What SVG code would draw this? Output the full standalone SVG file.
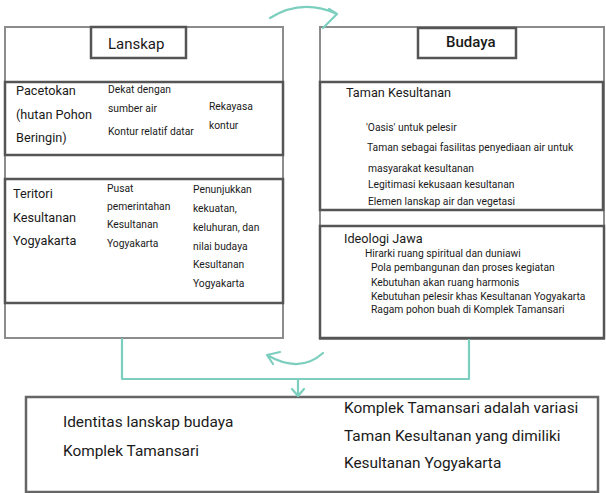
<svg xmlns="http://www.w3.org/2000/svg" width="606" height="493" viewBox="0 0 606 493">
<style>
.outer{fill:none;stroke:#8c8c8c;stroke-width:2}
.inner{fill:none;stroke:#555;stroke-width:2.5}
.title{fill:none;stroke:#555;stroke-width:2.5}
.bot{fill:none;stroke:#666;stroke-width:2.5}
.con{fill:none;stroke:#7ccfbf;stroke-width:2.2;stroke-linecap:round;stroke-linejoin:round}
text{font-family:Roboto,"Liberation Sans",sans-serif;fill:#1a1a1a}
.t15{font-size:15px}
.t12{font-size:12.7px}
.t9{font-size:10.3px}
.t14{font-size:15.4px}
</style>
<rect width="606" height="493" fill="#fff"/>
<g id="lanskap">
<rect class="outer" x="5" y="27" width="278" height="311"/>
<rect class="title" x="91" y="27" width="95" height="31"/>
<text class="t15" x="108" y="49">Lanskap</text>
</g>
<g id="pacetokan">
<rect class="inner" x="5" y="82" width="278" height="73"/>
<text class="t12" x="16" y="95">Pacetokan</text>
<text class="t12" x="16" y="119">(hutan Pohon</text>
<text class="t12" x="16" y="142">Beringin)</text>
<text class="t9" x="108" y="93">Dekat dengan</text>
<text class="t9" x="108" y="112">sumber air</text>
<text class="t9" x="108" y="135">Kontur relatif datar</text>
<text class="t9" x="209" y="110">Rekayasa</text>
<text class="t9" x="209" y="129">kontur</text>
</g>
<g id="teritori">
<rect class="inner" x="5" y="179" width="278" height="124"/>
<text class="t12" x="13" y="198">Teritori</text>
<text class="t12" x="13" y="222">Kesultanan</text>
<text class="t12" x="13" y="245">Yogyakarta</text>
<text class="t9" x="107" y="192">Pusat</text>
<text class="t9" x="107" y="210">pemerintahan</text>
<text class="t9" x="107" y="228">Kesultanan</text>
<text class="t9" x="107" y="247">Yogyakarta</text>
<text class="t9" x="193" y="193">Penunjukkan</text>
<text class="t9" x="193" y="212">kekuatan,</text>
<text class="t9" x="193" y="231">keluhuran, dan</text>
<text class="t9" x="193" y="250">nilai budaya</text>
<text class="t9" x="193" y="268">Kesultanan</text>
<text class="t9" x="193" y="287">Yogyakarta</text>
</g>
<g id="budaya">
<rect class="outer" x="320" y="27" width="284" height="312"/>
<rect class="title" x="418" y="28" width="98" height="30"/>
<text class="t15" x="446" y="47" font-weight="500">Budaya</text>
</g>
<g id="taman">
<rect class="inner" x="320" y="82" width="283" height="128"/>
<text class="t12" x="346" y="97">Taman Kesultanan</text>
<text class="t9" x="366" y="131">'Oasis' untuk pelesir</text>
<text class="t9" x="367" y="151">Taman sebagai fasilitas penyediaan air untuk</text>
<text class="t9" x="368" y="172">masyarakat kesultanan</text>
<text class="t9" x="368" y="188">Legitimasi kekusaan kesultanan</text>
<text class="t9" x="368" y="205">Elemen lanskap air dan vegetasi</text>
</g>
<g id="ideologi">
<rect class="inner" x="320" y="226" width="284" height="112"/>
<text class="t12" x="344" y="243">Ideologi Jawa</text>
<text class="t9" x="365" y="257">Hirarki ruang spiritual dan duniawi</text>
<text class="t9" x="371" y="271">Pola pembangunan dan proses kegiatan</text>
<text class="t9" x="371" y="286">Kebutuhan akan ruang harmonis</text>
<text class="t9" x="371" y="300">Kebutuhan pelesir khas Kesultanan Yogyakarta</text>
<text class="t9" x="371" y="313">Ragam pohon buah di Komplek Tamansari</text>
</g>
<g id="identitas">
<rect class="bot" x="26" y="397" width="572" height="95"/>
<text class="t14" x="63" y="427">Identitas lanskap budaya</text>
<text class="t14" x="63" y="456">Komplek Tamansari</text>
<text class="t14" x="344" y="413">Komplek Tamansari adalah variasi</text>
<text class="t14" x="344" y="441">Taman Kesultanan yang dimiliki</text>
<text class="t14" x="344" y="468">Kesultanan Yogyakarta</text>
</g>
<g id="connectors">
<path class="con" d="M122,339 L122,379 L469,379 L469,340"/>
<path class="con" d="M298,379 L298,396 M292,389 L298,396 L304,389"/>
<path class="con" d="M270,18 Q302,-2 337,14 M329,9 L337,14 L323,28"/>
<path class="con" d="M323,353 Q300,374 267,355 M280,352 L267,355 L273,364"/>
</g>
</svg>
